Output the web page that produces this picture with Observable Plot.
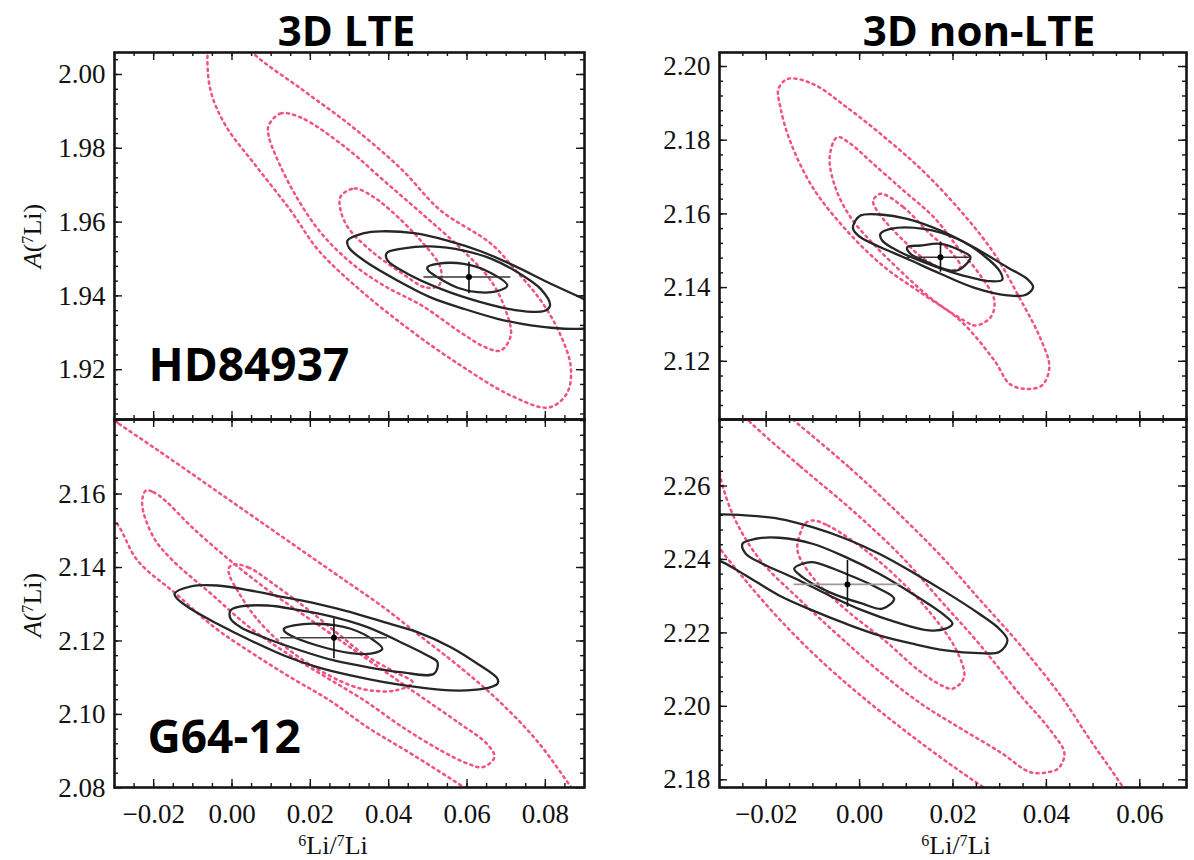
<!DOCTYPE html>
<html><head><meta charset="utf-8">
<script src="https://cdn.jsdelivr.net/npm/d3@7"></script>
<script src="https://cdn.jsdelivr.net/npm/@observablehq/plot@0.6"></script>
<style>
body{margin:0;background:#fff;}
#fig{position:relative;width:1194px;height:860px;overflow:hidden;background:#fff;}
#fig svg{position:absolute;left:0;top:0;}
.lab{position:absolute;font-family:"Liberation Serif",serif;font-size:26px;color:#111;white-space:nowrap;line-height:1;}
.lab sup{font-size:62%;vertical-align:0.55em;}
</style></head><body><div id="fig"></div>
<script>
// ---------- axis ticks ----------
const xMajorLeft = [-0.02, 0.00, 0.02, 0.04, 0.06, 0.08];
const xMajorRight = [-0.02, 0.00, 0.02, 0.04, 0.06];
const yMajorTL = [1.92, 1.94, 1.96, 1.98, 2.00];
const yMajorTR = [2.12, 2.14, 2.16, 2.18, 2.20];
const yMajorBL = [2.08, 2.10, 2.12, 2.14, 2.16];
const yMajorBR = [2.18, 2.20, 2.22, 2.24, 2.26];
const xDomainLeft = [-0.03, 0.09];
const xDomainRight = [-0.03, 0.07];
const yDomainTL = [1.9065, 2.00596];
const yDomainTR = [2.1042, 2.2038];
const yDomainBL = [2.0801, 2.1803];
const yDomainBR = [2.1779, 2.2781];
const titles = ["3D LTE", "3D non-LTE"];
const stars = ["HD84937", "G64-12"];

// ---------- HD84937, 3D LTE ----------
const hdLteBlack3 = [[0.0295,1.9550],[0.0337,1.9570],[0.0380,1.9575],[0.0465,1.9570],[0.0550,1.9550],[0.0635,1.9521],[0.0720,1.9482],[0.0806,1.9437],[0.0891,1.9395],[0.0950,1.9365],[0.0990,1.9335],[0.0970,1.9312],[0.0899,1.9311],[0.0848,1.9311],[0.0763,1.9320],[0.0678,1.9338],[0.0592,1.9365],[0.0507,1.9396],[0.0422,1.9442],[0.0337,1.9496],[0.0299,1.9530]];
const hdLteBlack2 = [[0.0395,1.9516],[0.0439,1.9529],[0.0507,1.9534],[0.0592,1.9523],[0.0661,1.9501],[0.0729,1.9464],[0.0788,1.9419],[0.0812,1.9374],[0.0797,1.9359],[0.0720,1.9362],[0.0635,1.9383],[0.0533,1.9419],[0.0448,1.9460],[0.0397,1.9496]];
const hdLteBlack1 = [[0.0499,1.9478],[0.0524,1.9487],[0.0592,1.9487],[0.0652,1.9467],[0.0703,1.9428],[0.0678,1.9413],[0.0627,1.9410],[0.0576,1.9422],[0.0524,1.9451],[0.0501,1.9469]];
const hdLteRed1 = [[0.02774,1.96694],[0.03132,1.96911],[0.03592,1.96694],[0.04052,1.96314],[0.04818,1.95501],[0.05329,1.94743],[0.05278,1.94282],[0.04946,1.94228],[0.04307,1.94634],[0.03541,1.95230],[0.02979,1.95827],[0.02774,1.96314]];
const hdLteRed2 = [[0.00935,1.98618],[0.01241,1.98943],[0.01752,1.98835],[0.02902,1.98022],[0.03873,1.97127],[0.04844,1.96233],[0.05815,1.95312],[0.06607,1.94417],[0.06990,1.93604],[0.07118,1.92927],[0.06862,1.92520],[0.06479,1.92602],[0.05840,1.93008],[0.04844,1.93740],[0.03873,1.94282],[0.03030,1.94905],[0.02263,1.95718],[0.01625,1.96721],[0.01114,1.97805],[0.00935,1.98347]];
const hdLteRed3 = [[-0.00241,2.01301],[0.00219,2.01084],[0.00526,2.00596],[0.01752,1.99621],[0.03030,1.98618],[0.04307,1.97453],[0.05329,1.96314],[0.06607,1.95420],[0.07246,1.94688],[0.07884,1.93875],[0.08370,1.92981],[0.08651,1.92060],[0.08549,1.91355],[0.08089,1.90976],[0.07118,1.91301],[0.05840,1.92114],[0.04563,1.93062],[0.03285,1.94146],[0.02212,1.95230],[0.01497,1.96314],[0.00603,1.97534],[-0.00164,1.98618],[-0.00547,1.99566],[-0.00624,2.00596],[-0.00547,2.01084]];
const hdLteBest = {x:0.0605, y:1.9451, xlo:0.0490, xhi:0.0712, ylo:1.9406, yhi:1.9491};

// ---------- HD84937, 3D non-LTE ----------
const hdNlteBlack3 = [[-0.00137,2.15685],[0.00019,2.15956],[0.00447,2.15983],[0.01019,2.15867],[0.01732,2.15549],[0.02445,2.15096],[0.03160,2.14553],[0.03588,2.14238],[0.03716,2.14010],[0.03550,2.13800],[0.03160,2.13790],[0.02445,2.14000],[0.01732,2.14374],[0.01019,2.14781],[0.00447,2.15096],[0.00019,2.15367],[-0.00125,2.15549]];
const hdNlteBlack2 = [[0.00447,2.15459],[0.00661,2.15595],[0.01374,2.15595],[0.02089,2.15324],[0.02659,2.14871],[0.03016,2.14417],[0.03053,2.14211],[0.02802,2.14173],[0.02089,2.14374],[0.01374,2.14689],[0.00804,2.15006],[0.00483,2.15278]];
const hdNlteBlack1 = [[0.01019,2.15096],[0.01303,2.15142],[0.01732,2.15188],[0.02160,2.15006],[0.02374,2.14824],[0.02089,2.14463],[0.01802,2.14509],[0.01374,2.14735],[0.01089,2.14917]];
const hdNlteRed1 = [[0.00453,2.16545],[0.00939,2.16181],[0.01507,2.15459],[0.01989,2.14925],[0.02160,2.14553],[0.01914,2.14463],[0.01428,2.14735],[0.00939,2.15278],[0.00533,2.15820],[0.00331,2.16181],[0.00291,2.16363]];
const hdNlteRed2 = [[-0.00480,2.18081],[-0.00195,2.17902],[0.00291,2.17359],[0.00939,2.16635],[0.01588,2.15910],[0.02155,2.15006],[0.02562,2.14374],[0.02886,2.13649],[0.02806,2.13196],[0.02481,2.12971],[0.02237,2.13106],[0.01588,2.13649],[0.00939,2.14374],[0.00291,2.15188],[-0.00195,2.15910],[-0.00521,2.16724],[-0.00641,2.17539]];
const hdNlteRed3 = [[-0.01533,2.19666],[-0.01007,2.19530],[-0.00277,2.18895],[0.00535,2.18081],[0.01346,2.17177],[0.02155,2.16092],[0.02886,2.14917],[0.03455,2.13649],[0.03860,2.12654],[0.04063,2.11839],[0.03900,2.11342],[0.03534,2.11253],[0.03211,2.11388],[0.02886,2.12021],[0.02155,2.13106],[0.01346,2.13831],[0.00535,2.14553],[-0.00277,2.15549],[-0.01007,2.16724],[-0.01493,2.17992],[-0.01696,2.18895],[-0.01737,2.19395]];
const hdNlteBest = {x:0.01732, y:2.14824, xlo:0.01019, xhi:0.02360, ylo:2.14417, yhi:2.15232};

// ---------- G64-12, 3D LTE ----------
const gLteBlack3 = [[-0.01467,2.13284],[-0.01058,2.13483],[-0.00376,2.13510],[0.00475,2.13374],[0.01326,2.13192],[0.02179,2.13012],[0.03030,2.12784],[0.03881,2.12511],[0.04734,2.12239],[0.05585,2.11831],[0.06267,2.11380],[0.06778,2.10971],[0.06778,2.10835],[0.06435,2.10699],[0.05585,2.10653],[0.04734,2.10743],[0.03881,2.10879],[0.03030,2.11061],[0.02179,2.11287],[0.01326,2.11605],[0.00475,2.12014],[-0.00376,2.12468],[-0.01058,2.12876],[-0.01398,2.13148]];
const gLteBlack2 = [[-0.00036,2.12830],[0.00135,2.12920],[0.00901,2.12966],[0.01752,2.12830],[0.02603,2.12648],[0.03457,2.12375],[0.04307,2.11967],[0.04989,2.11605],[0.05245,2.11423],[0.05158,2.11107],[0.04307,2.11151],[0.03457,2.11287],[0.02603,2.11469],[0.01752,2.11741],[0.00901,2.12060],[0.00219,2.12375],[-0.00036,2.12604]];
const gLteBlack1 = [[0.01326,2.12332],[0.01581,2.12422],[0.02179,2.12468],[0.03030,2.12332],[0.03625,2.12014],[0.03840,2.11788],[0.03541,2.11652],[0.03030,2.11668],[0.02179,2.11877],[0.01497,2.12150],[0.01326,2.12286]];
const gLteRed1 = [[0.00040,2.14082],[0.00424,2.14000],[0.01114,2.13510],[0.01906,2.12884],[0.02698,2.12204],[0.03413,2.11605],[0.04180,2.11143],[0.04614,2.10871],[0.04180,2.10653],[0.03541,2.10653],[0.03030,2.10789],[0.02110,2.11279],[0.01318,2.11877],[0.00628,2.12612],[0.00168,2.13320],[-0.00062,2.13782],[-0.00087,2.13973]];
const gLteRed2 = [[-0.02198,2.16095],[-0.02004,2.16049],[-0.01707,2.15823],[-0.01022,2.15097],[-0.00046,2.14190],[0.00932,2.13374],[0.01911,2.12648],[0.02887,2.11924],[0.03865,2.11197],[0.04844,2.10471],[0.05820,2.09747],[0.06505,2.09203],[0.06701,2.08838],[0.06408,2.08566],[0.06019,2.08659],[0.05329,2.09020],[0.04353,2.09654],[0.03377,2.10381],[0.02399,2.11015],[0.01420,2.11652],[0.00444,2.12375],[-0.00534,2.13284],[-0.01513,2.14190],[-0.02004,2.14824],[-0.02295,2.15732]];
const gLteRed3 = [[-0.03358,2.18272],[-0.02882,2.17910],[-0.02004,2.17273],[-0.01022,2.16550],[-0.00046,2.15823],[0.00932,2.15097],[0.01906,2.14373],[0.02887,2.13646],[0.03865,2.12920],[0.04844,2.12103],[0.05820,2.11287],[0.06798,2.10381],[0.07777,2.09293],[0.08656,2.08022],[0.09417,2.06844],[0.08906,2.06027],[0.07884,2.06299],[0.06096,2.07878],[0.05329,2.08422],[0.04435,2.09020],[0.03464,2.09646],[0.02493,2.10381],[0.01497,2.11007],[0.00526,2.11660],[-0.00445,2.12367],[-0.01441,2.13292],[-0.02412,2.14190],[-0.02931,2.15189],[-0.03485,2.15823],[-0.03869,2.16911],[-0.03741,2.17864]];
const gLteBest = {x:0.02603, y:2.12087, xlo:0.01241, xhi:0.03968, ylo:2.11516, yhi:2.12604};

// ---------- G64-12, 3D non-LTE ----------
const gNlteBlack3 = [[-0.03006,2.25224],[-0.02437,2.25197],[-0.01722,2.25107],[-0.01009,2.24879],[-0.00296,2.24563],[0.00419,2.24155],[0.01132,2.23654],[0.01845,2.23110],[0.02560,2.22522],[0.02988,2.22114],[0.03166,2.21796],[0.02988,2.21478],[0.02560,2.21450],[0.01845,2.21524],[0.01132,2.21706],[0.00419,2.21932],[-0.00296,2.22250],[-0.01009,2.22612],[-0.01722,2.23020],[-0.02437,2.23565],[-0.02936,2.23926],[-0.0345,2.2418],[-0.0385,2.2432],[-0.0400,2.2455],[-0.0385,2.2490],[-0.0345,2.2518]];
const gNlteBlack2 = [[-0.02508,2.24427],[-0.02223,2.24563],[-0.01722,2.24590],[-0.01009,2.24427],[-0.00296,2.24062],[0.00419,2.23611],[0.01132,2.23067],[0.01774,2.22522],[0.01989,2.22250],[0.01845,2.22114],[0.01490,2.22068],[0.00775,2.22294],[0.00062,2.22612],[-0.00651,2.23020],[-0.01366,2.23475],[-0.02079,2.23883],[-0.02437,2.24155]];
const gNlteBlack1 = [[-0.01401,2.23747],[-0.01223,2.23883],[-0.01009,2.23926],[-0.00296,2.23611],[0.00419,2.23203],[0.00740,2.22931],[0.00490,2.22658],[0.00062,2.22794],[-0.00651,2.23110],[-0.01223,2.23518]];
const gNlteRed1 = [[-0.01007,2.25061],[-0.00681,2.24925],[0.00130,2.24245],[0.00939,2.23339],[0.01588,2.22430],[0.02074,2.21524],[0.02237,2.20797],[0.01995,2.20482],[0.01753,2.20571],[0.01265,2.20980],[0.00535,2.21796],[-0.00277,2.22612],[-0.01007,2.23518],[-0.01330,2.24245],[-0.01249,2.24789],[-0.01169,2.24979]];
const gNlteRed2 = [[-0.02315,2.27700],[-0.01266,2.26530],[-0.00152,2.25333],[0.00875,2.24109],[0.01732,2.22884],[0.02588,2.21660],[0.03444,2.20299],[0.04087,2.19347],[0.04386,2.18721],[0.04258,2.18313],[0.04022,2.18204],[0.03659,2.18204],[0.03016,2.18748],[0.02160,2.19401],[0.01303,2.20082],[0.00447,2.20925],[-0.00409,2.21877],[-0.01266,2.22884],[-0.02122,2.23973],[-0.02657,2.25061],[-0.02936,2.26013],[-0.03043,2.26612],[-0.03300,2.27374],[-0.03150,2.28000],[-0.02764,2.28272]];
const gNlteRed3 = [[-0.01330,2.27700],[-0.00195,2.26476],[0.00768,2.25333],[0.01732,2.24109],[0.02588,2.22884],[0.03444,2.21660],[0.04301,2.20299],[0.04943,2.19075],[0.05643,2.17796],[0.06228,2.16626],[0.05800,2.15810],[0.04729,2.16082],[0.02652,2.17796],[0.01732,2.18612],[0.00875,2.19429],[0.00019,2.20299],[-0.00838,2.21252],[-0.01694,2.22340],[-0.02443,2.23428],[-0.03043,2.24381],[-0.03407,2.25061],[-0.03621,2.26694],[-0.03407,2.28327],[-0.02550,2.28463],[-0.01801,2.28191]];
const gNlteBest = {x:-0.00260, y:2.23320, xlo:-0.01401, xhi:0.00882, ylo:2.22702, yhi:2.23973};

// ---------- layout ----------
const W = 1194, H = 860;
const RED = "#f2527f", INK = "#151515";
const panels = [
  {m:[52,610,441,114], xd:xDomainLeft, yd:yDomainTL, xM:xMajorLeft, yM:yMajorTL, showX:false,
   black:[hdLteBlack3,hdLteBlack2,hdLteBlack1], red:[hdLteRed3,hdLteRed2,hdLteRed1], best:hdLteBest, hCol:"#333",
   title:titles[0], tdx:-3, star:stars[0], sdx:34, sdy:-39},
  {m:[52,8,441,719], xd:xDomainRight, yd:yDomainTR, xM:xMajorRight, yM:yMajorTR, showX:false,
   black:[hdNlteBlack3,hdNlteBlack2,hdNlteBlack1], red:[hdNlteRed3,hdNlteRed2,hdNlteRed1], best:hdNlteBest, hCol:"#333",
   title:titles[1], tdx:26},
  {m:[419,610,73,114], xd:xDomainLeft, yd:yDomainBL, xM:xMajorLeft, yM:yMajorBL, showX:true,
   black:[gLteBlack3,gLteBlack2,gLteBlack1], red:[gLteRed3,gLteRed2,gLteRed1], best:gLteBest, hCol:"#444",
   star:stars[1], sdx:33, sdy:-35},
  {m:[419,8,73,719], xd:xDomainRight, yd:yDomainBR, xM:xMajorRight, yM:yMajorBR, showX:true,
   black:[gNlteBlack3,gNlteBlack2,gNlteBlack1], red:[gNlteRed3,gNlteRed2,gNlteRed1], best:gNlteBest, hCol:"#9a9a9a"}
];

const fmt = d3.format(".2f");
const fig = document.getElementById("fig");

function minorTicks(domain, step) {
  const k0 = Math.ceil(domain[0] / step - 1e-6), k1 = Math.floor(domain[1] / step + 1e-6);
  return d3.range(k0, k1 + 1).map(k => +(k * step).toFixed(5));
}

for (const p of panels) {
  const [mt, mr, mb, ml] = p.m;
  const fw = W - ml - mr, fh = H - mt - mb;
  const xMinor = minorTicks(p.xd, 0.005);
  const yMinor = minorTicks(p.yd, 0.004);
  const tickStyle = {stroke: INK, strokeWidth: 1.4};
  const lineOpts = {x: d => d[0], y: d => d[1], curve: "catmull-rom-closed", clip: true};
  const marks = [
    ...p.red.map(c => Plot.line(c, {...lineOpts, stroke: RED, strokeWidth: 2.5, strokeDasharray: "2.2,4.2"})),
    ...p.black.map(c => Plot.line(c, {...lineOpts, stroke: "#262626", strokeWidth: 2.3})),
    Plot.ruleY([p.best], {y: "y", x1: "xlo", x2: "xhi", stroke: p.hCol, strokeWidth: 1.6}),
    Plot.ruleX([p.best], {x: "x", y1: "ylo", y2: "yhi", stroke: "#111", strokeWidth: 1.6}),
    Plot.dot([p.best], {x: "x", y: "y", r: 3, fill: "#000"}),
    Plot.tickX(xMinor, {insetTop: fh - 4, ...tickStyle}),
    Plot.tickX(xMinor, {insetBottom: fh - 4, ...tickStyle}),
    Plot.tickX(p.xM, {insetTop: fh - 8, ...tickStyle}),
    Plot.tickX(p.xM, {insetBottom: fh - 8, ...tickStyle}),
    Plot.tickY(yMinor, {insetRight: fw - 4, ...tickStyle}),
    Plot.tickY(yMinor, {insetLeft: fw - 4, ...tickStyle}),
    Plot.tickY(p.yM, {insetRight: fw - 8, ...tickStyle}),
    Plot.tickY(p.yM, {insetLeft: fw - 8, ...tickStyle}),
    Plot.frame({stroke: INK, strokeWidth: 2.6}),
    Plot.axisY(p.yM, {anchor: "left", tickSize: 0, tickPadding: 9, tickFormat: fmt,
      fontSize: 27, fontFamily: "Liberation Serif", fill: "#111"})
  ];
  if (p.showX) marks.push(Plot.axisX(p.xM, {anchor: "bottom", tickSize: 0, tickPadding: 16, tickFormat: fmt,
      fontSize: 27, fontFamily: "Liberation Serif", fill: "#111"}));
  if (p.star) marks.push(Plot.text([p.star], {frameAnchor: "bottom-left", text: d => d, dx: p.sdx, dy: p.sdy,
      textAnchor: "start", lineAnchor: "bottom", fontSize: 46, fontWeight: 700, fontFamily: "Open Sans", fill: "#000"}));
  if (p.title) marks.push(Plot.text([p.title], {frameAnchor: "top", text: d => d, dx: p.tdx, dy: -7,
      lineAnchor: "bottom", fontSize: 42, fontWeight: 700, fontFamily: "Open Sans", fill: "#000"}));
  const svg = Plot.plot({
    width: W, height: H,
    marginTop: mt, marginRight: mr, marginBottom: mb, marginLeft: ml,
    x: {domain: p.xd, axis: null},
    y: {domain: p.yd, axis: null},
    style: {background: "transparent", overflow: "visible", fontFamily: "Liberation Serif"},
    marks
  });
  fig.appendChild(svg);
}

// axis titles (real text, mixed italic / superscript)
function addLabel(html, x, y, rotate) {
  const d = document.createElement("div");
  d.className = "lab";
  d.innerHTML = html;
  d.style.left = x + "px";
  d.style.top = y + "px";
  d.style.transform = "translate(-50%,-50%)" + (rotate ? " rotate(-90deg)" : "");
  fig.appendChild(d);
}
const yTitle = "<i>A</i>(<sup>7</sup>Li)";
const xTitle = "<sup>6</sup>Li/<sup>7</sup>Li";
addLabel(yTitle, 33, 236, true);
addLabel(yTitle, 33, 605, true);
addLabel(xTitle, 333, 846, false);
addLabel(xTitle, 956, 846, false);
</script></body></html>
